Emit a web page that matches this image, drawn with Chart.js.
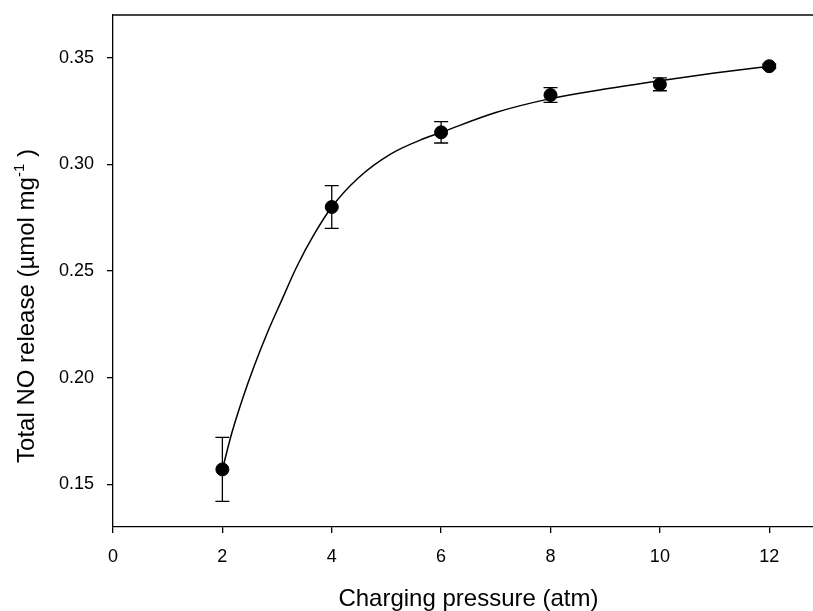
<!DOCTYPE html>
<html>
<head>
<meta charset="utf-8">
<title>Total NO release vs charging pressure</title>
<script src="https://cdn.jsdelivr.net/npm/chart.js@4/dist/chart.umd.min.js"></script>
<style>
    html, body { margin: 0; padding: 0; background: #fff; }
    #no-chart { display: block; }
</style>
</head>
<body>
<canvas id="no-chart" width="813" height="611"></canvas>
<script>
// Measured points (mean +/- error)
const pressure = [2, 4, 6, 8, 10, 12];
const noRelease = [0.157, 0.280, 0.315, 0.3325, 0.3375, 0.346];
const noError = [0.015, 0.010, 0.005, 0.0035, 0.003, 0.001];

// Fitted curve
const fitX = [2, 2.17, 2.36, 2.58, 2.83, 3.08, 3.36, 3.69, 4, 4.48, 5.09, 5.7, 6, 7, 8, 9, 10, 11, 12];
const fitY = [0.157, 0.1738, 0.1894, 0.2053, 0.2215, 0.2360, 0.252, 0.2677, 0.280, 0.2935, 0.305, 0.3122, 0.315, 0.3243, 0.3308, 0.3353, 0.3392, 0.3428, 0.346];

// Axis ticks
const xTicks = [0, 2, 4, 6, 8, 10, 12];
const yTicks = [0.15, 0.20, 0.25, 0.30, 0.35];

const X_TITLE = 'Charging pressure (atm)';
const Y_TITLE = ['Total NO release (\u00b5mol mg', '-1', ' )'];

const FONT = 'Liberation Sans, Arial, sans-serif';

// Error bars, top frame line and axis titles
const decorPlugin = {
    id: 'decor',
    afterDatasetsDraw(chart) {
        const { ctx, chartArea, scales } = chart;
        ctx.save();

        // top frame
        ctx.strokeStyle = '#444';
        ctx.lineWidth = 2;
        ctx.beginPath();
        ctx.moveTo(chartArea.left, chartArea.top);
        ctx.lineTo(chartArea.right, chartArea.top);
        ctx.stroke();

        // error bars
        ctx.strokeStyle = '#000';
        ctx.lineWidth = 1.3;
        const cap = 7;
        pressure.forEach((p, i) => {
            const x = scales.x.getPixelForValue(p);
            const yTop = scales.y.getPixelForValue(noRelease[i] + noError[i]);
            const yBot = scales.y.getPixelForValue(noRelease[i] - noError[i]);
            ctx.beginPath();
            ctx.moveTo(x, yTop);
            ctx.lineTo(x, yBot);
            ctx.moveTo(x - cap, yTop);
            ctx.lineTo(x + cap, yTop);
            ctx.moveTo(x - cap, yBot);
            ctx.lineTo(x + cap, yBot);
            ctx.stroke();
        });
        ctx.restore();
    },
    afterDraw(chart) {
        const { ctx, scales } = chart;
        ctx.save();
        ctx.fillStyle = '#000';
        ctx.textBaseline = 'alphabetic';

        // x title (centred on the full 0-13 axis of the original plot)
        ctx.font = '24px ' + FONT;
        ctx.textAlign = 'center';
        ctx.fillText(X_TITLE, scales.x.getPixelForValue(6.5), chart.height - 5);

        // y title with superscript, rotated
        const mainFont = '24px ' + FONT;
        const supFont = '15px ' + FONT;
        ctx.font = mainFont;
        const w1 = ctx.measureText(Y_TITLE[0]).width;
        const w3 = ctx.measureText(Y_TITLE[2]).width;
        ctx.font = supFont;
        const w2 = ctx.measureText(Y_TITLE[1]).width;
        const total = w1 + w2 + w3;

        ctx.translate(34, 306);
        ctx.rotate(-Math.PI / 2);
        ctx.textAlign = 'left';
        let x = -total / 2;
        ctx.font = mainFont;
        ctx.fillText(Y_TITLE[0], x, 0);
        x += w1;
        ctx.font = supFont;
        ctx.fillText(Y_TITLE[1], x, -10);
        x += w2;
        ctx.font = mainFont;
        ctx.fillText(Y_TITLE[2], x, 0);
        ctx.restore();
    }
};

function initChart() {
    const ctx = document.getElementById('no-chart').getContext('2d');

    new Chart(ctx, {
        type: 'scatter',
        data: {
            datasets: [
                {
                    label: 'Fit',
                    data: fitX.map((x, i) => ({ x: x, y: fitY[i] })),
                    showLine: true,
                    borderColor: '#000',
                    borderWidth: 1.5,
                    pointRadius: 0,
                    cubicInterpolationMode: 'monotone',
                    order: 2
                },
                {
                    label: 'Total NO release',
                    data: pressure.map((x, i) => ({ x: x, y: noRelease[i] })),
                    showLine: false,
                    pointRadius: 6.5,
                    pointBackgroundColor: '#000',
                    pointBorderColor: '#000',
                    order: 1
                }
            ]
        },
        options: {
            responsive: false,
            animation: false,
            layout: { autoPadding: false, padding: { top: 15, right: 0, left: 0, bottom: 0 } },
            plugins: {
                legend: { display: false },
                tooltip: { enabled: false }
            },
            scales: {
                x: {
                    type: 'linear',
                    min: 0,
                    max: 12.8,
                    afterBuildTicks: axis => { axis.ticks = xTicks.map(v => ({ value: v })); },
                    afterFit: axis => {
                        axis.height = 84;
                        axis.paddingLeft = 0;
                        axis.paddingRight = 0;
                    },
                    border: { display: true, color: '#000', width: 1.3 },
                    grid: { drawOnChartArea: false, drawTicks: true, tickLength: 6, color: '#000', lineWidth: 1.3 },
                    ticks: {
                        color: '#000',
                        padding: 13,
                        maxRotation: 0,
                        font: { family: FONT, size: 18 }
                    }
                },
                y: {
                    type: 'linear',
                    min: 0.13,
                    max: 0.37,
                    afterBuildTicks: axis => { axis.ticks = yTicks.map(v => ({ value: v })); },
                    afterFit: axis => {
                        axis.width = 113;
                        axis.paddingTop = 0;
                        axis.paddingBottom = 0;
                    },
                    border: { display: true, color: '#000', width: 1.3 },
                    grid: { drawOnChartArea: false, drawTicks: true, tickLength: 6, color: '#000', lineWidth: 1.3 },
                    ticks: {
                        color: '#000',
                        padding: 13,
                        font: { family: FONT, size: 18 },
                        callback: v => v.toFixed(2)
                    }
                }
            }
        },
        plugins: [decorPlugin]
    });
}

initChart();
</script>
</body>
</html>
